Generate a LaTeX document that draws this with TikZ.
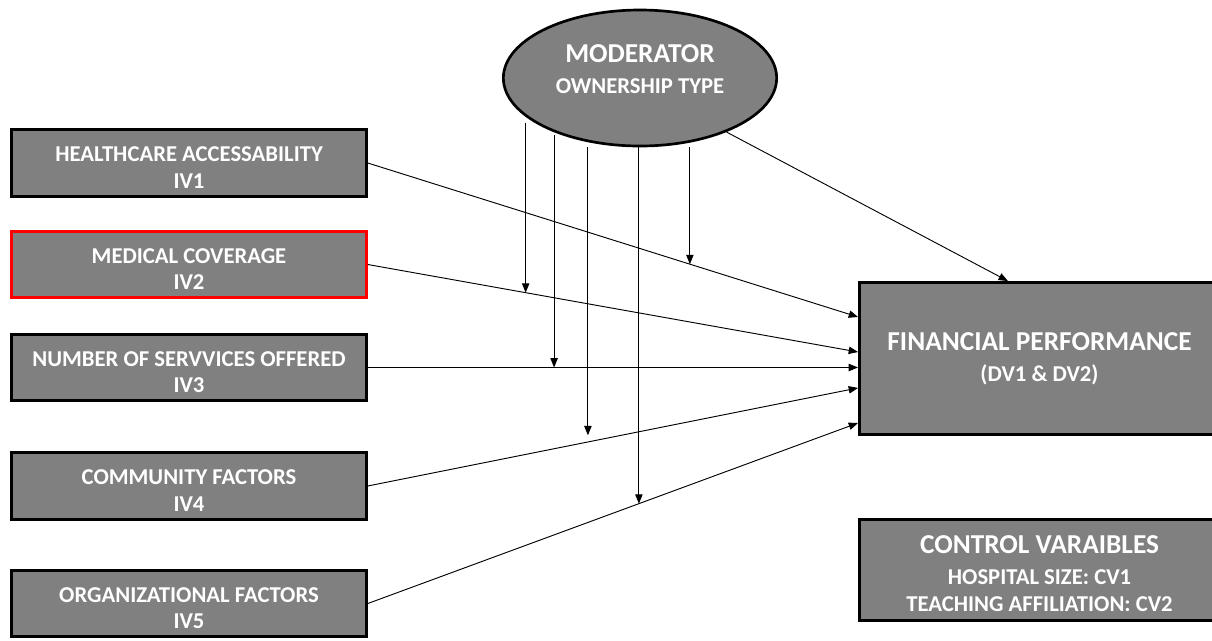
\documentclass[tikz,border=0pt]{standalone}
\usepackage{fontspec}
\setmainfont{Carlito}
\usetikzlibrary{calc,arrows.meta,shapes.geometric}

\definecolor{boxgray}{RGB}{128,128,128}
\newcommand{\ivfont}{\fontsize{17}{20}\selectfont}
\newcommand{\headfont}{\fontsize{20.5}{23}\selectfont}
% two-line label, pushed a little down in its box
\newcommand{\twolines}[2]{\rule{0pt}{18pt}#1\\#2}

\begin{document}
\begin{tikzpicture}[
        %pixel grid of the page, y going down
        x=0.75pt, y=-0.75pt,
        varbox/.style={draw=black, line width=2.2pt, fill=boxgray, text=white,
            font=\bfseries\ivfont, align=center, inner sep=0pt,
            minimum width=266pt, minimum height=50pt},
        modshape/.style={ellipse, draw=black, line width=2pt, fill=boxgray,
            inner sep=0pt, minimum width=205pt, minimum height=102pt},
        link/.style={line width=0.7pt, -{Triangle[length=7pt,width=5.5pt]}},
        every node/.style={color=black}
     ]
\useasboundingbox (0,0) rectangle (1212,640);

% independent variables
\node[varbox] (iv1) at (189,163) {\twolines{HEALTHCARE ACCESSABILITY}{IV1}};
\node[varbox, draw=red] (iv2) at (189,264.5) {\twolines{MEDICAL COVERAGE}{IV2}};
\node[varbox] (iv3) at (189,367.5) {\twolines{NUMBER OF SERVVICES OFFERED}{IV3}};
\node[varbox] (iv4) at (189,486) {\twolines{COMMUNITY FACTORS}{IV4}};
\node[varbox] (iv5) at (189,603.5) {\twolines{ORGANIZATIONAL FACTORS}{IV5}};

% dependent and control variables
\node[varbox, minimum width=270pt, minimum height=114pt] (dv) at (1039.5,358.5)
    {{\headfont FINANCIAL PERFORMANCE}\\[3pt](DV1 \& DV2)};
\node[varbox, minimum width=270pt, minimum height=75.5pt] (cv) at (1039.5,570)
    {\rule{0pt}{19pt}{\headfont CONTROL VARAIBLES}\\[3pt]HOSPITAL SIZE: CV1\\TEACHING AFFILIATION: CV2};

% moderator
\node[modshape] (mod) at (640,78) {};
\node[text=white, font=\bfseries\ivfont, align=center] (modtext) at (640,69)
    {{\headfont MODERATOR}\\[3pt]OWNERSHIP TYPE};

% direct effects
\draw[link] (iv1.east) -- ($(dv.north west)!0.232!(dv.south west)$) coordinate[pos=0.657] (m5);
\draw[link] (iv2.east) -- ($(dv.north west)!0.458!(dv.south west)$) coordinate[pos=0.322] (m1);
\draw[link] (iv3.east) -- (dv.west |- iv3.east) coordinate[pos=0.380] (m2);
\draw[link] (iv4.east) -- ($(dv.north west)!0.69!(dv.south west)$) coordinate[pos=0.449] (m3);
\draw[link] (iv5.east) -- ($(dv.north west)!0.916!(dv.south west)$) coordinate[pos=0.553] (m4);
\draw[link] (mod.328) -- ($(dv.north west)!0.413!(dv.north east)$);

% moderating effects
\draw[link] (m1 |- mod.203) -- (m1);
\draw[link] (m2 |- mod.216) -- (m2);
\draw[link, shorten >=5] (m3 |- mod.south) -- (m3);
\draw[link] (m4 |- mod.south) -- (m4);
\draw[link] (m5 |- mod.south) -- (m5);
\end{tikzpicture}
\end{document}
